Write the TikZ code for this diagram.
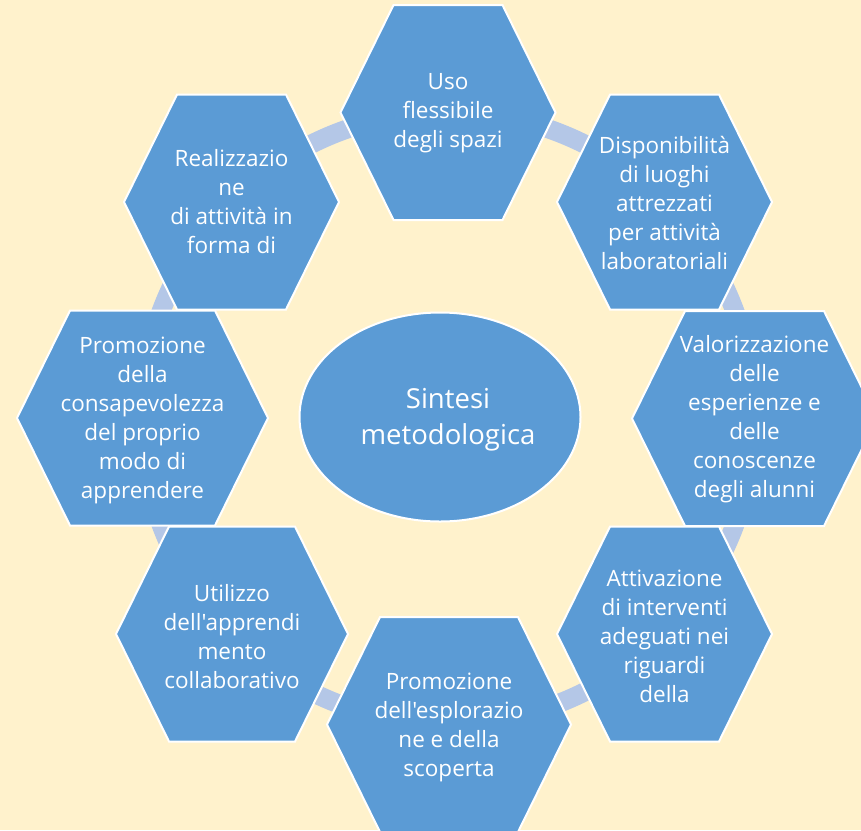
\documentclass[tikz,border=0pt]{standalone}
\usepackage{fontspec}
\setmainfont{Open Sans}[Ligatures=TeXOff]
\usetikzlibrary{shapes.geometric}
\definecolor{bgcream}{HTML}{FFF2CC}
\definecolor{hexblue}{HTML}{5B9BD5}
\definecolor{ringblue}{HTML}{B4C7E7}
\tikzset{
  hexshape/.style={fill=hexblue, draw=white, line width=2pt, line join=miter},
  hextext/.style={text=white, align=center, font=\fontsize{22.5}{29}\selectfont, inner sep=0pt},
  ringline/.style={draw=ringblue, line width=19pt},
  corebox/.style={ellipse, fill=hexblue, draw=white, line width=2pt, minimum width=281pt, minimum height=209pt, inner sep=0pt},
  coretext/.style={text=white, align=center, font=\fontsize{27.5}{36}\selectfont, inner sep=0pt}
}
\newcommand\hexat[3]{% cx cy halfwidth
  \path[hexshape] (#1-#3,#2) -- (#1-#3+53,#2-107.5) -- (#1+#3-53,#2-107.5) -- (#1+#3,#2)
    -- (#1+#3-53,#2+107.5) -- (#1-#3+53,#2+107.5) -- cycle;
}
\begin{document}
\begin{tikzpicture}[x=1pt,y=-1pt]
\useasboundingbox (0,0) rectangle (861,830);
\clip (0,0) rectangle (861,830);
\fill[bgcream] (0,0) rectangle (861,830);
% ring behind the hexagons
\coordinate (ringc) at (448,418);
\draw[ringline] (ringc) circle[radius=306pt];
% hexagons
\hexat{448}{112.5}{107.5}
\hexat{664.5}{202}{107.5}
\hexat{231.5}{202}{107.5}
\hexat{754.5}{418.5}{122.5}
\hexat{664.5}{634}{107.5}
\hexat{449}{724.5}{122}
\hexat{142.5}{418}{125.5}
\hexat{232}{634}{116}
% texts
\node[hextext] (h1) at (448,113) {Uso\\flessibile\\degli spazi};
\node[hextext] (h2) at (664.5,203) {Disponibilità\\di luoghi\\attrezzati\\per attività\\laboratoriali};
\node[hextext] (h3) at (231.5,202) {Realizzazio\\ne\\di attività in\\forma di};
\node[hextext] (h4) at (754.5,419) {Valorizzazione\\delle\\esperienze e\\delle\\conoscenze\\degli alunni};
\node[hextext] (h5) at (664.5,636) {Attivazione\\di interventi\\adeguati nei\\riguardi\\della};
\node[hextext] (h6) at (449,727) {Promozione\\dell'esplorazio\\ne e della\\scoperta};
\node[hextext] (h7) at (142.5,420) {Promozione\\della\\consapevolezza\\del proprio\\modo di\\apprendere};
\node[hextext] (h8) at (232,637) {Utilizzo\\dell'apprendi\\mento\\collaborativo};
% centre
\node[corebox] (core) at (440,417) {};
\node[coretext] (coretxt) at (448,420) {Sintesi\\metodologica};
\end{tikzpicture}
\end{document}
